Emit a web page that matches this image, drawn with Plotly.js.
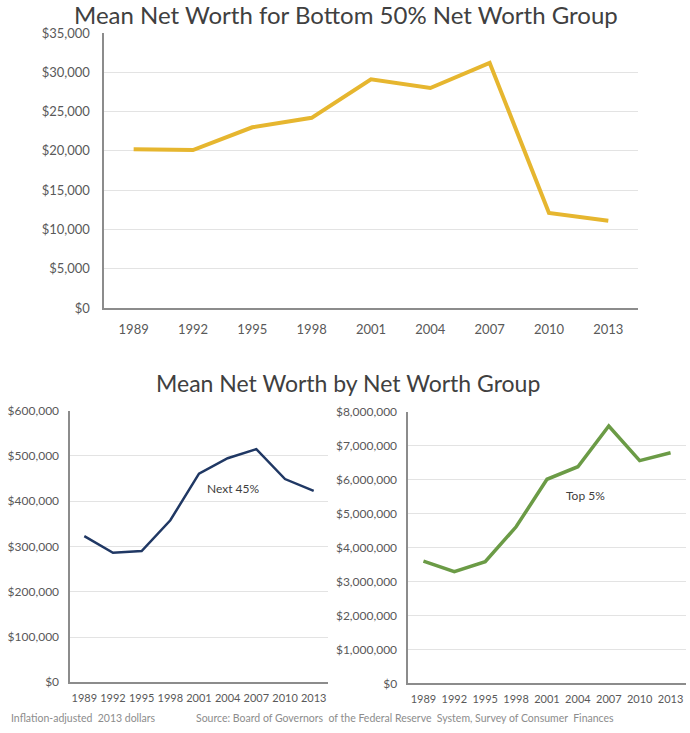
<!DOCTYPE html>
<html>
<head>
<meta charset="utf-8">
<script src="https://cdn.plot.ly/plotly-3.0.1.min.js"></script>
<style>
  html, body { margin: 0; padding: 0; background: #ffffff; }
  #chart { width: 690px; height: 733px; }
</style>
</head>
<body>
<div id="chart"></div>
<script>
// Survey years (category axis)
const years = ['1989', '1992', '1995', '1998', '2001', '2004', '2007', '2010', '2013'];

// Mean net worth, inflation-adjusted 2013 dollars
const bottom50 = [20200, 20100, 23000, 24200, 29100, 28000, 31200, 12100, 11100];
const next45 = [323000, 286000, 290000, 358000, 461000, 495000, 515000, 449000, 423000];
const top5 = [3600000, 3290000, 3580000, 4610000, 6010000, 6380000, 7580000, 6560000, 6790000];

// Tick values for the three value axes
const ticksBottom50 = [0, 5000, 10000, 15000, 20000, 25000, 30000, 35000];
const ticksNext45 = [0, 100000, 200000, 300000, 400000, 500000, 600000];
const ticksTop5 = [0, 1000000, 2000000, 3000000, 4000000, 5000000, 6000000, 7000000, 8000000];

const FONT = 'Lato, "Open Sans", sans-serif';
const TICK_COLOR = '#595959';
const GRID = '#e3e3e3';
const AXIS = '#8c8c8c';

function money(v) {
  return '$' + v.toLocaleString('en-US');
}

const traces = [
  {
    x: years, y: bottom50, type: 'scatter', mode: 'lines',
    line: { color: '#E6B62F', width: 4 },
    xaxis: 'x', yaxis: 'y', hoverinfo: 'x+y'
  },
  {
    x: years, y: next45, type: 'scatter', mode: 'lines',
    line: { color: '#203864', width: 2.5 },
    xaxis: 'x2', yaxis: 'y2', hoverinfo: 'x+y'
  },
  {
    x: years, y: top5, type: 'scatter', mode: 'lines',
    line: { color: '#6B9B46', width: 3.5 },
    xaxis: 'x3', yaxis: 'y3', hoverinfo: 'x+y'
  }
];

function xAxis(domain, anchor, size, standoff) {
  return {
    type: 'category', domain: domain, anchor: anchor,
    range: [-0.5, years.length - 0.5],
    showgrid: false, zeroline: false,
    showline: true, linecolor: AXIS, linewidth: 1.5,
    ticks: '', ticklen: 0, ticklabelstandoff: standoff,
    tickfont: { family: FONT, size: size, color: TICK_COLOR },
    automargin: false
  };
}

function yAxis(domain, anchor, ticks, size, standoff) {
  return {
    domain: domain, anchor: anchor,
    range: [0, ticks[ticks.length - 1]],
    tickmode: 'array', tickvals: ticks, ticktext: ticks.map(money),
    showgrid: true, gridcolor: GRID, gridwidth: 1,
    zeroline: false,
    showline: true, linecolor: AXIS, linewidth: 1.5,
    ticks: '', ticklen: 0, ticklabelstandoff: standoff,
    tickfont: { family: FONT, size: size, color: TICK_COLOR },
    automargin: false
  };
}

const layout = {
  width: 690, height: 733,
  margin: { l: 0, r: 0, t: 0, b: 0 },
  paper_bgcolor: '#ffffff', plot_bgcolor: '#ffffff',
  showlegend: false,
  font: { family: FONT, color: TICK_COLOR },
  xaxis: xAxis([0.1507, 0.9246], 'y', 13, 9),
  yaxis: yAxis([0.5798, 0.955], 'x', ticksBottom50, 13, 10),
  xaxis2: xAxis([0.1014, 0.4754], 'y2', 11, 5),
  yaxis2: yAxis([0.0692, 0.4397], 'x2', ticksNext45, 12, 7),
  xaxis3: xAxis([0.5913, 0.9942], 'y3', 11, 5),
  yaxis3: yAxis([0.0678, 0.4383], 'x3', ticksTop5, 12, 7),
  annotations: [
    {
      text: 'Mean Net Worth for Bottom 50% Net Worth Group',
      xref: 'paper', yref: 'paper', x: 346 / 690, y: 1 - 15 / 733,
      xanchor: 'center', yanchor: 'middle', showarrow: false,
      font: { family: FONT, size: 24, color: '#404040' }
    },
    {
      text: 'Mean Net Worth by Net Worth Group',
      xref: 'paper', yref: 'paper', x: 348 / 690, y: 1 - 383 / 733,
      xanchor: 'center', yanchor: 'middle', showarrow: false,
      font: { family: FONT, size: 23, color: '#404040' }
    },
    {
      text: 'Next 45%', xref: 'x2', yref: 'y2', x: 5.2, y: 427000,
      showarrow: false, font: { family: FONT, size: 12, color: '#404040' }
    },
    {
      text: 'Top 5%', xref: 'x3', yref: 'y3', x: 5.24, y: 5520000,
      showarrow: false, font: { family: FONT, size: 12, color: '#404040' }
    },
    {
      text: 'Inflation-adjusted  2013 dollars',
      xref: 'paper', yref: 'paper', x: 9 / 690, y: 1 - 718 / 733,
      xanchor: 'left', yanchor: 'middle', showarrow: false,
      font: { family: FONT, size: 10.5, color: '#8c8c8c' }
    },
    {
      text: 'Source: Board of Governors  of the Federal Reserve  System, Survey of Consumer  Finances',
      xref: 'paper', yref: 'paper', x: 194 / 690, y: 1 - 718 / 733,
      xanchor: 'left', yanchor: 'middle', showarrow: false,
      font: { family: FONT, size: 10.5, color: '#8c8c8c' }
    }
  ]
};

Plotly.newPlot('chart', traces, layout, { displayModeBar: false, staticPlot: true });
</script>
</body>
</html>
